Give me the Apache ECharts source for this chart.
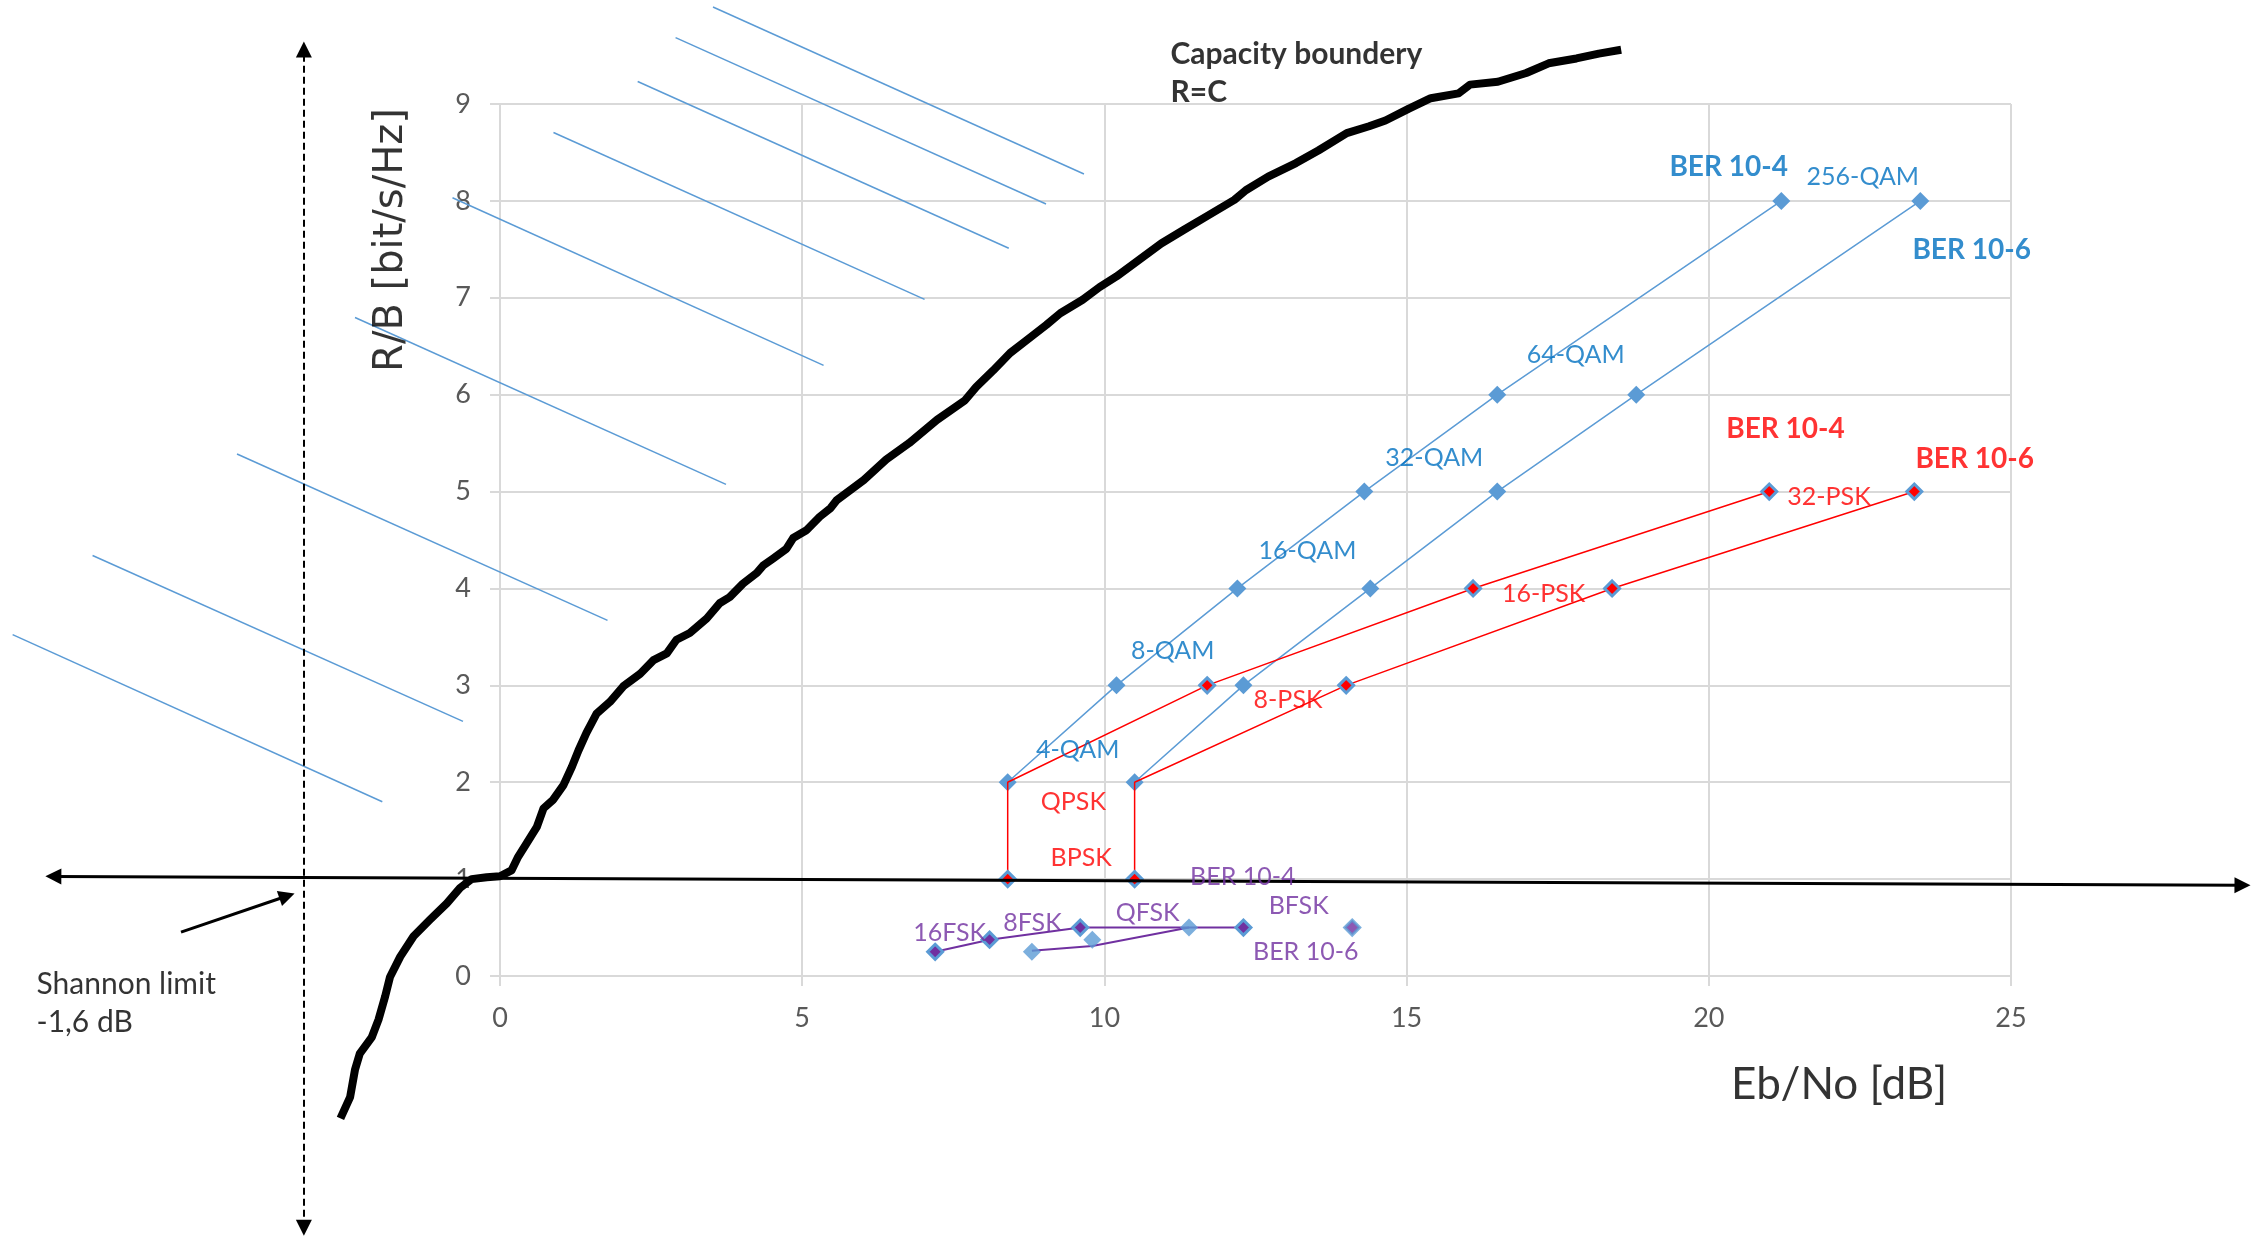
<!DOCTYPE html>
<html>
<head>
<meta charset="utf-8">
<title>Spectral efficiency vs Eb/No</title>
<script src="https://cdn.jsdelivr.net/npm/echarts@6/dist/echarts.min.js"></script>
<style>
  html, body { margin: 0; padding: 0; background: #ffffff; }
  #chart { width: 2253px; height: 1239px; }
</style>
</head>
<body>
<div id="chart"></div>
<script>
// ---- axis ticks ----
const xTicks = [0, 5, 10, 15, 20, 25];          // Eb/No [dB]
const yTicks = [0, 1, 2, 3, 4, 5, 6, 7, 8, 9];  // R/B [bit/s/Hz]

// ---- QAM (bandwidth efficient), BER 1e-4 and 1e-6 ----
const qamRate = [2, 3, 4, 5, 6, 8];
const qamEbNoBer4 = [8.4, 10.2, 12.2, 14.3, 16.5, 21.2];
const qamEbNoBer6 = [10.5, 12.3, 14.4, 16.5, 18.8, 23.5];

// ---- PSK: BPSK, QPSK, 8-PSK, 16-PSK, 32-PSK ----
const pskRate = [1, 2, 3, 4, 5];
const pskEbNoBer4 = [8.4, 8.4, 11.7, 16.1, 21.0];
const pskEbNoBer6 = [10.5, 10.5, 14.0, 18.4, 23.4];

// ---- FSK: 16FSK, 8FSK, QFSK, BFSK ----
const fskRate = [0.25, 0.375, 0.5, 0.5];
const fskEbNoBer4 = [7.2, 8.1, 9.6, 12.3];
const fskEbNoBer6 = [8.8, 9.8, 11.4, 14.1];
const fskBer6Link = [[8.8, 0.26], [9.8, 0.31], [11.4, 0.5]];

// ---- Shannon capacity boundary R = C (hand traced) ----
const capacityCurve = [
  [-2.64, -1.47], [-2.48, -1.25], [-2.40, -0.97], [-2.32, -0.80], [-2.12, -0.63],
  [-2.01, -0.45], [-1.90, -0.21], [-1.82, -0.01], [-1.65, 0.20], [-1.43, 0.41],
  [-1.16, 0.58], [-0.88, 0.75], [-0.66, 0.91], [-0.47, 1.00], [-0.22, 1.02],
  [0.00, 1.03], [0.19, 1.09], [0.30, 1.23], [0.44, 1.37], [0.61, 1.54],
  [0.72, 1.73], [0.88, 1.82], [1.05, 1.97], [1.19, 2.16], [1.30, 2.33],
  [1.43, 2.51], [1.60, 2.71], [1.82, 2.83], [2.04, 2.99], [2.32, 3.12],
  [2.54, 3.26], [2.76, 3.33], [2.92, 3.47], [3.14, 3.54], [3.42, 3.69],
  [3.64, 3.85], [3.80, 3.91], [4.02, 4.05], [4.25, 4.16], [4.36, 4.24],
  [4.52, 4.31], [4.74, 4.41], [4.85, 4.52], [5.07, 4.60], [5.29, 4.74],
  [5.47, 4.83], [5.57, 4.91], [6.02, 5.12], [6.39, 5.33], [6.77, 5.50],
  [7.23, 5.74], [7.69, 5.94], [7.88, 6.08], [8.16, 6.25], [8.44, 6.43],
  [8.71, 6.56], [9.04, 6.72], [9.27, 6.84], [9.64, 6.98], [9.92, 7.11],
  [10.20, 7.22], [10.57, 7.39], [10.94, 7.56], [11.31, 7.70], [11.69, 7.84],
  [12.15, 8.01], [12.34, 8.11], [12.71, 8.25], [13.17, 8.39], [13.54, 8.52],
  [14.01, 8.70], [14.38, 8.77], [14.65, 8.83], [15.03, 8.95], [15.40, 9.06],
  [15.86, 9.11], [16.05, 9.20], [16.51, 9.23], [16.98, 9.32], [17.35, 9.42],
  [17.81, 9.47], [18.18, 9.52], [18.55, 9.56]
];

// ---- hatching of the unattainable region (left of the boundary) ----
const hatchSegments = [
  [[3.524, 10.001], [9.662, 8.278]],
  [[2.905, 9.685], [9.034, 7.968]],
  [[2.278, 9.232], [8.418, 7.511]],
  [[0.885, 8.706], [7.025, 6.984]],
  [[-0.786, 8.033], [5.354, 6.302]],
  [[-2.399, 6.796], [3.739, 5.074]],
  [[-4.351, 5.388], [1.779, 3.670]],
  [[-6.741, 4.340], [-0.612, 2.628]],
  [[-8.064, 3.524], [-1.947, 1.799]]
];

// ---- reference arrows ----
const rateOneArrow = [[-7.39, 1.028], [28.83, 0.937]];
const shannonLimitArrow = [[-3.245, -2.598], [-3.245, 9.562]];
const shannonPointer = [[-5.278, 0.453], [-3.524, 0.826]];

// ---- text annotations: [text, Eb/No, R/B] ----
const qamNames = [['4-QAM', 8.86, 2.333], ['8-QAM', 10.43, 3.355], ['16-QAM', 12.54, 4.389],
  ['32-QAM', 14.64, 5.351], ['64-QAM', 16.98, 6.413], ['256-QAM', 21.61, 8.25]];
const qamBerNames = [['BER 10-4', 19.34, 8.347], ['BER 10-6', 23.36, 7.49]];
const pskNames = [['BPSK', 9.10, 1.218], ['QPSK', 8.94, 1.799], ['8-PSK', 12.46, 2.851],
  ['16-PSK', 16.57, 3.94], ['32-PSK', 21.29, 4.94]];
const pskBerNames = [['BER 10-4', 20.28, 5.646], ['BER 10-6', 23.41, 5.339]];
const fskNames = [['16FSK', 6.83, 0.447], ['8FSK', 8.32, 0.55], ['QFSK', 10.18, 0.653],
  ['BFSK', 12.71, 0.722], ['BER 10-4', 11.41, 1.025], ['BER 10-6', 12.45, 0.251]];
const boundaryNames = [['Capacity boundery', 11.085, 9.516], ['R=C', 11.085, 9.119]];
const limitNames = [['Shannon limit', -7.677, -0.083], ['-1,6 dB', -7.677, -0.48]];
const xTitle = ['Eb/No [dB]', 20.36, -1.125];
const yTitle = ['R/B [bit/s/Hz]', -1.787, 7.596];

// ---- layout ----
const W = 2253, H = 1239;
const PLOT = { left: 500, top: 104, width: 1511, height: 872 };
const xMin = xTicks[0], xMax = xTicks[xTicks.length - 1];
const yMin = yTicks[0], yMax = yTicks[yTicks.length - 1];
const xPerPx = (xMax - xMin) / PLOT.width;
const yPerPx = (yMax - yMin) / PLOT.height;
// full-canvas grid sharing the same scale as the plot area
const fullX = [xMin - PLOT.left * xPerPx, xMax + (W - PLOT.left - PLOT.width) * xPerPx];
const fullY = [yMin - (H - PLOT.top - PLOT.height) * yPerPx, yMax + PLOT.top * yPerPx];

const C = {
  marker: '#5B9BD5', qamText: '#0070C0', red: '#FF0000', purple: '#7030A0',
  grid: '#D9D9D9', tick: '#595959', black: '#000000'
};
const FONT = 'Lato, "Open Sans", sans-serif';

const pts = (xs, ys) => xs.map((x, i) => [x, ys[i]]);

const blueDiamond = { color: C.marker };
const redDiamond = { color: C.red, borderColor: C.marker, borderWidth: 3 };
const purpleDiamond = { color: C.purple, borderColor: C.marker, borderWidth: 3 };

function textSeries(items, label, extra) {
  return Object.assign({
    type: 'scatter', xAxisIndex: 0, yAxisIndex: 0, silent: true, z: 20,
    symbolSize: 1, itemStyle: { color: 'transparent' },
    label: Object.assign({ show: true, formatter: '{b}', position: 'right', distance: 0,
      fontFamily: FONT }, label),
    data: items.map(t => ({ name: t[0], value: [t[1], t[2]] }))
  }, extra || {});
}

function arrowSeries(segments, style, symbols) {
  return {
    type: 'lines', coordinateSystem: 'cartesian2d', xAxisIndex: 0, yAxisIndex: 0,
    silent: true, z: 15, symbol: symbols, symbolSize: 16,
    lineStyle: Object.assign({ opacity: 1, curveness: 0 }, style),
    data: segments.map(s => ({ coords: s }))
  };
}

const pskLine = (xs, width) => ({
  type: 'line', xAxisIndex: 1, yAxisIndex: 1, silent: true, z: 6,
  symbol: 'diamond', symbolSize: 15,
  itemStyle: redDiamond, lineStyle: { color: C.red, width: width },
  data: xs.map((x, i) => i === 1 ? { value: [x, pskRate[i]], symbol: 'none' } : [x, pskRate[i]])
});

const qamLine = xs => ({
  type: 'line', xAxisIndex: 1, yAxisIndex: 1, silent: true, z: 5,
  symbol: 'diamond', symbolSize: 18,
  itemStyle: blueDiamond, lineStyle: { color: C.marker, width: 1.5 },
  data: pts(xs, qamRate)
});

const option = {
  animation: false,
  backgroundColor: '#ffffff',
  grid: [
    { left: 0, top: 0, width: W, height: H },
    { left: PLOT.left, top: PLOT.top, width: PLOT.width, height: PLOT.height }
  ],
  xAxis: [
    { type: 'value', gridIndex: 0, min: fullX[0], max: fullX[1], show: false },
    {
      type: 'value', gridIndex: 1, min: xMin, max: xMax, interval: xTicks[1] - xTicks[0],
      axisLine: { show: true, lineStyle: { color: C.grid, width: 2 } },
      axisTick: { show: true, length: 10, lineStyle: { color: C.grid, width: 2 } },
      splitLine: { show: true, lineStyle: { color: C.grid, width: 2 } },
      axisLabel: { color: C.tick, fontFamily: FONT, fontSize: 27, margin: 29 }
    }
  ],
  yAxis: [
    { type: 'value', gridIndex: 0, min: fullY[0], max: fullY[1], show: false },
    {
      type: 'value', gridIndex: 1, min: yMin, max: yMax, interval: yTicks[1] - yTicks[0],
      axisLine: { show: true, lineStyle: { color: C.grid, width: 2 } },
      axisTick: { show: true, length: 10, lineStyle: { color: C.grid, width: 2 } },
      splitLine: { show: true, lineStyle: { color: C.grid, width: 2 } },
      axisLabel: { color: C.tick, fontFamily: FONT, fontSize: 27, margin: 29 }
    }
  ],
  series: [
    // hatching
    arrowSeries(hatchSegments, { color: C.marker, width: 1.5 }, ['none', 'none']),
    // capacity boundary
    {
      type: 'line', xAxisIndex: 0, yAxisIndex: 0, silent: true, z: 8,
      symbol: 'none', data: capacityCurve,
      lineStyle: { color: C.black, width: 8, join: 'round' }
    },
    // QAM
    qamLine(qamEbNoBer4),
    qamLine(qamEbNoBer6),
    // PSK
    pskLine(pskEbNoBer4, 1.5),
    pskLine(pskEbNoBer6, 1.5),
    // FSK, BER 1e-4
    {
      type: 'line', xAxisIndex: 1, yAxisIndex: 1, silent: true, z: 6,
      symbol: 'diamond', symbolSize: 15, itemStyle: purpleDiamond,
      lineStyle: { color: C.purple, width: 2 },
      data: pts(fskEbNoBer4, fskRate)
    },
    // FSK, BER 1e-6 connecting line
    {
      type: 'line', xAxisIndex: 1, yAxisIndex: 1, silent: true, z: 6,
      symbol: 'none', lineStyle: { color: C.purple, width: 2 },
      data: fskBer6Link
    },
    // FSK, BER 1e-6 points
    {
      type: 'scatter', xAxisIndex: 1, yAxisIndex: 1, silent: true, z: 7,
      symbol: 'diamond', symbolSize: 18, itemStyle: blueDiamond,
      data: fskEbNoBer6.map((x, i) => i < 3 ? [x, fskRate[i]]
        : { value: [x, fskRate[i]], symbolSize: 15, itemStyle: purpleDiamond })
    },
    // arrows
    arrowSeries([rateOneArrow], { color: C.black, width: 3 }, ['triangle', 'triangle']),
    arrowSeries([shannonLimitArrow], { color: C.black, width: 2, type: [7, 4] }, ['triangle', 'triangle']),
    arrowSeries([shannonPointer], { color: C.black, width: 3 }, ['none', 'triangle']),
    // text
    textSeries(qamNames, { color: C.qamText, fontSize: 25 }),
    textSeries(qamBerNames, { color: C.qamText, fontSize: 28, fontWeight: 'bold' }),
    textSeries(pskNames, { color: C.red, fontSize: 25 }),
    textSeries(pskBerNames, { color: C.red, fontSize: 28, fontWeight: 'bold' }),
    textSeries(fskNames, { color: C.purple, fontSize: 25 }),
    textSeries(boundaryNames, { color: C.black, fontSize: 30, fontWeight: 'bold' }),
    textSeries(limitNames, { color: C.black, fontSize: 30 }),
    textSeries([xTitle], { color: C.black, fontSize: 44 }),
    textSeries([yTitle], { color: C.black, fontSize: 40, fontFamily: '"DejaVu Sans", sans-serif',
      position: 'inside', rotate: 90, align: 'center', verticalAlign: 'middle' })
  ]
};

const chart = echarts.init(document.getElementById('chart'), null, { renderer: 'canvas' });
chart.setOption(option);
</script>
</body>
</html>
